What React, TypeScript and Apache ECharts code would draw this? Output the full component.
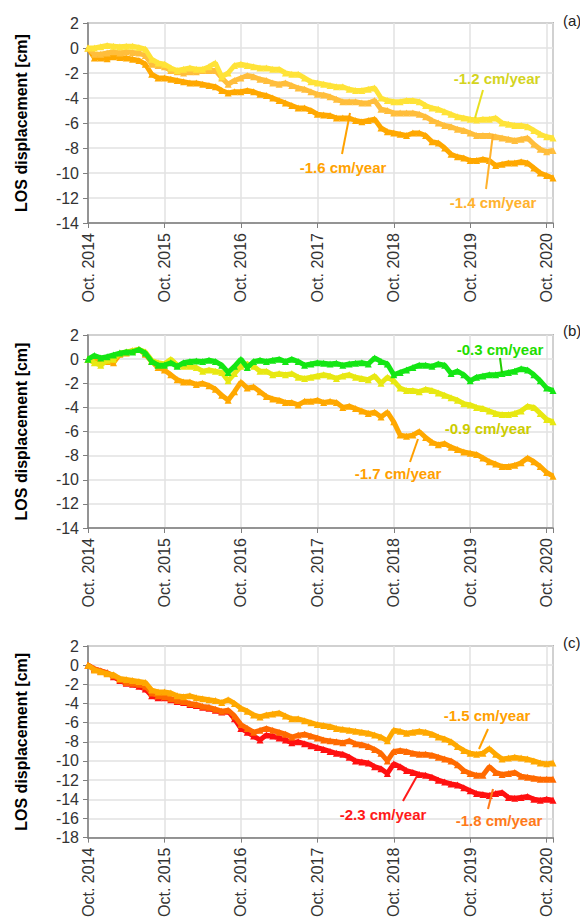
import React, { useEffect, useRef } from "react";
import * as echarts from "echarts";

const xTickLabels = ["Oct. 2014", "Oct. 2015", "Oct. 2016", "Oct. 2017", "Oct. 2018", "Oct. 2019", "Oct. 2020"];

// monthly samples starting Oct. 2014 (index = months since Oct. 2014)
const a12 = [
  0, 0, 0.1, 0.2, 0.15, 0.1, 0.15, 0.15, 0.05, -0.1,
  -0.9, -1.2, -1.3, -1.6, -1.8, -1.7, -1.6, -1.7, -1.7, -1.5,
  -1.2, -2.3, -2.0, -1.4, -1.3, -1.4, -1.5, -1.6, -1.6, -1.7,
  -1.7, -2.0, -2.1, -2.1, -2.4, -2.7, -2.8, -2.9, -3.0, -3.1,
  -3.1, -3.3, -3.4, -3.4, -3.3, -3.2, -4.0, -4.2, -4.3, -4.3,
  -4.2, -4.2, -4.3, -4.6, -4.8, -4.9, -5.1, -5.3, -5.5, -5.6,
  -5.7, -5.75, -5.7, -5.7, -5.6, -6.0, -6.1, -6.2, -6.2, -6.3,
  -6.6, -6.9, -7.1, -7.2,
];
const a14 = [
  0, -0.5, -0.5, -0.4, -0.3, -0.4, -0.3, -0.35, -0.4, -0.6,
  -1.3, -1.4, -1.5, -1.8, -1.9, -2.0, -1.9, -1.9, -1.8, -1.8,
  -1.8, -2.4, -2.9, -2.6, -2.4, -2.2, -2.3, -2.5, -2.6, -2.8,
  -2.9, -2.8, -3.0, -3.2, -3.3, -3.5, -3.7, -3.75, -3.9, -4.1,
  -4.3, -4.3, -4.3, -4.4, -4.4, -4.2, -4.9, -5.0, -5.2, -5.2,
  -5.2, -5.2, -5.3, -5.5, -5.8, -6.0, -6.2, -6.3, -6.5, -6.6,
  -6.8, -7.0, -7.0, -7.0, -7.1, -7.2, -7.3, -7.4, -7.3, -7.2,
  -7.7, -8.1, -8.3, -8.2,
];
const a16 = [
  0, -0.8, -0.8, -0.85, -0.7, -0.75, -0.8, -0.9, -1.0, -1.3,
  -2.1, -2.4, -2.4, -2.5, -2.6, -2.7, -2.8, -2.8, -2.9, -3.0,
  -3.1, -3.4, -3.6, -3.5, -3.5, -3.4, -3.5, -3.7, -3.8, -4.0,
  -4.2, -4.4, -4.6, -4.8, -4.8, -5.0, -5.3, -5.35, -5.4, -5.6,
  -5.6, -5.6, -5.8, -5.9, -5.8, -5.7, -6.4, -6.7, -6.8, -6.9,
  -7.0, -6.8, -6.8, -7.0, -7.5, -7.6, -8.0, -8.5, -8.7, -8.8,
  -9.0, -9.0, -8.9, -9.0, -9.4, -9.3, -9.2, -9.2, -9.1, -9.2,
  -9.6, -10.0, -10.2, -10.4,
];
const b03 = [
  0, 0.3, 0.1, 0.2, 0.35, 0.5, 0.6, 0.6, 0.8, 0.5,
  -0.2, -0.5, -0.5, -0.3, -0.6, -0.3, -0.2, -0.15, -0.2, -0.1,
  -0.2, -0.5, -1.1, -0.6, 0.0, -0.7, -0.2, -0.1, -0.2, -0.1,
  0.0, -0.2, 0.0, -0.2, -0.5, -0.4, -0.3, -0.35, -0.4, -0.35,
  -0.5, -0.4, -0.35, -0.3, -0.4, 0.1, -0.2, -0.4, -1.3, -1.1,
  -0.9, -0.7, -0.5, -0.5, -0.6, -0.4, -0.5, -1.2, -1.0, -1.3,
  -1.8, -1.5, -1.4, -1.3, -1.3, -1.2, -1.1, -1.0, -0.8, -0.9,
  -1.3, -1.8, -2.4, -2.6,
];
const b09 = [
  0, -0.3, -0.5, -0.1, 0.0, 0.5, 0.6, 0.7, 0.8, 0.6,
  -0.1, -0.3, -0.4, 0.0, -0.5, -0.6, -0.6, -0.7, -1.0, -0.9,
  -1.0, -1.1, -1.8, -1.2, -0.6, -0.4, -0.6, -1.0, -1.0, -1.3,
  -1.2, -1.3, -1.2, -1.5, -1.6, -1.5, -1.4, -1.3, -1.4, -1.6,
  -1.4, -1.3, -1.5, -1.6, -1.7, -1.4, -2.0, -1.5, -1.8, -2.4,
  -2.6, -2.6, -2.7, -2.5, -2.6, -2.8, -3.0, -3.2, -3.4, -3.7,
  -3.8, -4.0, -4.1, -4.3, -4.5, -4.6, -4.6, -4.5, -4.3, -3.9,
  -4.0, -4.5, -5.0, -5.2,
];
const b17 = [
  0, -0.1, -0.3, -0.2, -0.3, 0.4, 0.5, 0.7, 0.8, 0.4,
  -0.2, -0.7, -0.9, -1.3, -1.7, -1.9, -1.9, -2.1, -2.0, -2.2,
  -2.5, -3.0, -3.4, -2.7, -1.9, -2.4, -2.3, -2.7, -3.1, -3.3,
  -3.4, -3.6, -3.6, -3.8, -3.5, -3.5, -3.4, -3.6, -3.5, -3.6,
  -4.0, -3.9, -4.1, -4.3, -4.5, -4.4, -4.8, -4.4, -5.2, -6.3,
  -6.4, -6.3, -6.0, -6.5, -6.9, -7.1, -7.0, -7.3, -7.5, -7.7,
  -7.8, -7.9, -8.2, -8.5, -8.7, -8.9, -8.9, -8.8, -8.6, -8.2,
  -8.5, -8.9, -9.4, -9.7,
];
const c15 = [
  0, -0.5, -0.7, -0.9, -1.0, -1.4, -1.5, -1.6, -1.7, -1.8,
  -2.6, -2.8, -2.8, -2.9, -3.2, -3.3, -3.2, -3.4, -3.5, -3.6,
  -3.7, -3.9, -3.6, -4.0, -4.5, -4.8, -5.2, -5.4, -5.2, -5.1,
  -5.0, -5.3, -5.6, -5.6, -5.8, -6.0, -6.2, -6.3, -6.4, -6.6,
  -6.7, -6.8, -6.9, -7.0, -7.1, -7.3, -7.5, -7.9, -6.8, -6.9,
  -7.1, -7.0, -6.9, -7.0, -7.2, -7.5, -7.7, -8.0, -8.5, -8.9,
  -9.2, -9.3, -9.2, -8.7, -9.3, -9.8, -9.7, -9.6, -9.7, -9.8,
  -10.0, -10.2, -10.3, -10.2,
];
const c18 = [
  0, -0.4, -0.6, -0.8, -1.1, -1.5, -1.8, -1.9, -2.0, -2.2,
  -2.9, -3.2, -3.3, -3.5, -3.7, -3.8, -4.0, -4.1, -4.3, -4.4,
  -4.6, -4.8, -4.7, -5.3, -6.2, -6.6, -7.0, -6.8, -6.6, -6.8,
  -7.0, -7.2, -7.5, -7.3, -7.2, -7.4, -7.6, -7.8, -7.9, -8.0,
  -8.1, -7.9, -8.2, -8.3, -8.5, -8.8, -9.2, -10.0, -9.0, -8.9,
  -9.0, -9.2, -9.3, -9.3, -9.4, -9.6, -9.8, -10.0, -10.4, -11.0,
  -11.3, -11.5, -11.5, -10.6, -11.2, -11.4, -11.3, -11.2, -11.6, -11.7,
  -11.8, -11.9, -11.9, -11.9,
];
const c23 = [
  0, -0.4, -0.6, -0.8, -1.2, -1.6, -1.9, -2.0, -2.2, -2.5,
  -3.2, -3.4, -3.4, -3.6, -3.8, -3.9, -4.1, -4.2, -4.4, -4.5,
  -4.7, -4.9, -4.8, -5.6, -6.6, -7.0, -7.4, -7.8, -7.3, -7.4,
  -7.6, -7.8, -8.1, -8.0, -8.2, -8.4, -8.6, -8.8, -9.0, -9.2,
  -9.3, -9.6, -10.0, -10.1, -10.2, -10.6, -10.8, -11.3, -10.3, -10.6,
  -11.0, -11.2, -11.4, -11.5, -11.7, -12.0, -12.2, -12.4, -12.5, -12.8,
  -13.1, -13.4, -13.5, -13.6, -13.4, -13.3, -13.8, -13.9, -13.8, -13.7,
  -14.0, -14.1, -14.0, -14.1,
];

const rateLabels = {
  a12: "-1.2 cm/year", a14: "-1.4 cm/year", a16: "-1.6 cm/year",
  b03: "-0.3 cm/year", b09: "-0.9 cm/year", b17: "-1.7 cm/year",
  c15: "-1.5 cm/year", c18: "-1.8 cm/year", c23: "-2.3 cm/year",
};
const panelTags = ["(a)", "(b)", "(c)"];
const yMins = [-14, -14, -18];

const FONT = "'Liberation Sans', Arial, Helvetica, sans-serif";

export default function App() {
  const ref = useRef<HTMLDivElement>(null);
  useEffect(() => {
    const chart = echarts.init(ref.current!, null, { renderer: "svg" });
    const grids = [
      { left: 88, top: 23, width: 465, height: 200 },
      { left: 88, top: 335, width: 465, height: 193 },
      { left: 88, top: 646, width: 465, height: 194 },
    ].map((g) => ({ ...g, show: true, borderColor: "#7f7f7f", borderWidth: 1.5, backgroundColor: "transparent" }));

    const xAxes = [0, 1, 2].map((i) => ({
      gridIndex: i,
      type: "value",
      min: 0,
      max: 73,
      interval: 12,
      axisLine: { show: true, onZero: false, lineStyle: { color: "#7f7f7f", width: 1.5 } },
      axisTick: { show: true, length: 5, lineStyle: { color: "#7f7f7f" } },
      axisLabel: {
        rotate: 90,
        margin: 10,
        fontSize: 16,
        color: "#333",
        fontFamily: FONT,
        formatter: (v: number) => (v % 12 === 0 ? xTickLabels[v / 12] : ""),
      },
      splitLine: { show: true, lineStyle: { color: "#e2e2e2", width: 1.5 } },
    }));

    const yAxes = [0, 1, 2].map((i) => ({
      gridIndex: i,
      type: "value",
      min: yMins[i],
      max: 2,
      interval: 2,
      name: "LOS displacement [cm]",
      nameLocation: "middle",
      nameGap: 59,
      nameTextStyle: { fontWeight: "bold", fontSize: 16, color: "#000", fontFamily: FONT },
      axisLine: { show: true, onZero: false, lineStyle: { color: "#7f7f7f", width: 1.5 } },
      axisTick: { show: true, length: 5, lineStyle: { color: "#7f7f7f" } },
      axisLabel: { fontSize: 16, color: "#333", fontFamily: FONT, margin: 9 },
      splitLine: { show: true, lineStyle: { color: "#e2e2e2", width: 1.5 } },
    }));

    const mk = (data: number[], color: string, gi: number, z: number) => ({
      type: "line",
      xAxisIndex: gi,
      yAxisIndex: gi,
      data: data.map((v, i) => [i, v]),
      symbol: "triangle",
      symbolSize: 7,
      showSymbol: true,
      lineStyle: { color, width: 5 },
      itemStyle: { color },
      z,
      silent: true,
    });

    const series = [
      mk(a16, "#FFA800", 0, 2),
      mk(a14, "#FFBE3C", 0, 3),
      mk(a12, "#FFE338", 0, 4),
      mk(b17, "#FFA800", 1, 2),
      mk(b09, "#E8E812", 1, 3),
      mk(b03, "#14E614", 1, 4),
      mk(c23, "#FF1010", 2, 2),
      mk(c18, "#FF6A00", 2, 3),
      mk(c15, "#FFA800", 2, 4),
    ];

    const txt = (x: number, y: number, text: string, fill: string) => ({
      type: "text",
      x,
      y,
      z: 100,
      style: { text, fill, font: `bold 15px ${FONT}`, textAlign: "center", textVerticalAlign: "middle" },
    });
    const ln = (x1: number, y1: number, x2: number, y2: number, stroke: string) => ({
      type: "line",
      z: 100,
      shape: { x1, y1, x2, y2 },
      style: { stroke, lineWidth: 2 },
    });
    const tag = (y: number, text: string) => ({
      type: "text",
      x: 563,
      y,
      z: 100,
      style: { text, fill: "#222", font: `15px ${FONT}`, textAlign: "left", textVerticalAlign: "middle" },
    });

    const graphic = [
      txt(497, 78, rateLabels.a12, "#D4D41E"),
      ln(483, 90, 475, 118, "#E8E020"),
      txt(343, 167, rateLabels.a16, "#FFA200"),
      ln(350, 113, 342, 154, "#FFA200"),
      txt(493, 202, rateLabels.a14, "#FFB22E"),
      ln(493, 134, 486, 189, "#FFB22E"),
      txt(500, 349, rateLabels.b03, "#22DD00"),
      ln(500, 358, 502, 373, "#22CC00"),
      txt(488, 428, rateLabels.b09, "#CCCC00"),
      txt(398, 473, rateLabels.b17, "#FF9F00"),
      ln(410, 462, 418, 439, "#FF9F00"),
      txt(487, 715, rateLabels.c15, "#FFA000"),
      ln(488, 729, 479, 749, "#FFA000"),
      txt(383, 814, rateLabels.c23, "#FF1A1A"),
      ln(403, 801, 417, 776, "#FF1A1A"),
      txt(499, 820, rateLabels.c18, "#FF7A1A"),
      ln(488, 809, 493, 789, "#FF7A1A"),
      tag(20, panelTags[0]),
      tag(330, panelTags[1]),
      tag(642, panelTags[2]),
    ];

    chart.setOption({
      animation: false,
      backgroundColor: "#ffffff",
      grid: grids,
      xAxis: xAxes,
      yAxis: yAxes,
      series,
      graphic,
    } as any);
    return () => chart.dispose();
  }, []);
  return (
    <div
      ref={ref}
      style={{ position: "absolute", left: 0, top: 0, width: 580, height: 920, background: "#fff" }}
    />
  );
}
